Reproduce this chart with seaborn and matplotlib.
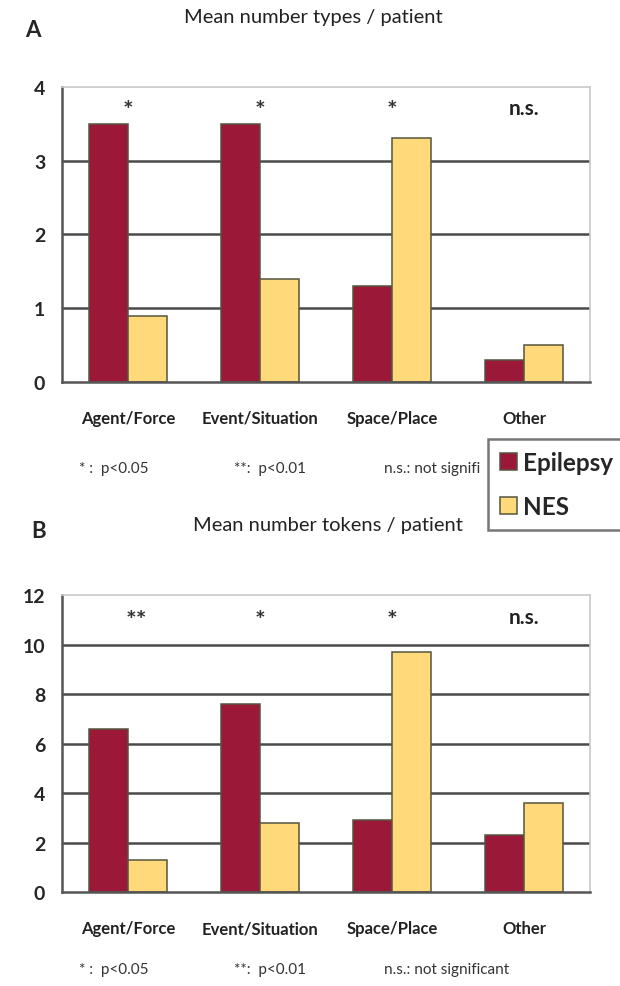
import numpy as np
import pandas as pd
import matplotlib
matplotlib.use("Agg")
import matplotlib.pyplot as plt
import seaborn as sns

categories = ['Agent/Force', 'Event/Situation', 'Space/Place', 'Other']
groups = ['Epilepsy', 'NES']

types_epilepsy = [3.5, 3.5, 1.3, 0.3]
types_nes = [0.9, 1.4, 3.3, 0.5]
types_sig = ['*', '*', '*', 'n.s.']

tokens_epilepsy = [6.6, 7.6, 2.9, 2.3]
tokens_nes = [1.3, 2.8, 9.7, 3.6]
tokens_sig = ['**', '*', '*', 'n.s.']

footnotes = ['* :  p<0.05', '**:  p<0.01', 'n.s.: not significant']

sns.set_style("white")
plt.rcParams['font.family'] = ['Lato', 'DejaVu Sans']

palette = {'Epilepsy': '#9c1838', 'NES': '#ffd97a'}


def make_df(epi, nes):
    df = pd.DataFrame({'category': categories * 2,
                       'group': ['Epilepsy'] * 4 + ['NES'] * 4,
                       'value': list(epi) + list(nes)})
    return df


def draw_panel(ax, df, sig, ymax, ystep, sig_y):
    sns.barplot(data=df, x='category', y='value', hue='group', palette=palette,
                order=categories, hue_order=groups, width=0.59, saturation=1,
                edgecolor='#55553f', linewidth=1.1, legend=False, ax=ax)
    ax.set_ylim(0, ymax)
    ax.set_xlim(-0.5, 3.5)
    ticks = np.arange(0, ymax + 0.01, ystep)
    ax.set_yticks(ticks)
    ax.set_yticklabels([str(int(v)) for v in ticks], fontsize=14, fontweight='bold')
    for v in ticks[1:-1]:
        ax.axhline(v, color='#4a4a4a', lw=1.8, zorder=0)
    ax.set_xticks(range(4))
    ax.set_xticklabels(categories, fontsize=12, fontweight='bold', color='#222222')
    ax.set_xticks(np.arange(-0.5, 3.6, 1), minor=True)
    ax.tick_params(axis='x', which='major', length=0, pad=20)
    ax.tick_params(axis='x', which='minor', length=4, width=1.2, color='#555555', direction='out')
    ax.tick_params(axis='y', length=5, width=1.2, color='#555555', direction='out', pad=7)
    ax.set_xlabel('')
    ax.set_ylabel('')
    for s in ['left', 'bottom']:
        ax.spines[s].set_color('#555555')
        ax.spines[s].set_linewidth(1.8)
    for s in ['top', 'right']:
        ax.spines[s].set_color('#c8c8c8')
        ax.spines[s].set_linewidth(1.2)
    for i, s in enumerate(sig):
        if s == 'n.s.':
            ax.text(i, sig_y, s, ha='center', va='center', fontsize=15, fontweight='bold', color='#222222')
        else:
            dx = 0.06 if s == '**' else 0
            ax.text(i + dx, sig_y - ymax * 0.01, s, ha='center', va='center', fontsize=18,
                    fontweight='bold', color='#333333')


fig = plt.figure(figsize=(6.2, 9.87), dpi=100)
ax_a = fig.add_axes([0.100, 0.612, 0.852, 0.299])
ax_b = fig.add_axes([0.100, 0.095, 0.852, 0.301])

draw_panel(ax_a, make_df(types_epilepsy, types_nes), types_sig, 4, 1, 3.72)
draw_panel(ax_b, make_df(tokens_epilepsy, tokens_nes), tokens_sig, 12, 2, 11.1)

fig.text(0.040, 0.969, 'A', fontsize=16, fontweight='bold', va='center', ha='left')
fig.text(0.505, 0.982, 'Mean number types / patient', fontsize=14.5, ha='center', va='center', color='#222222')
fig.text(0.050, 0.462, 'B', fontsize=16, fontweight='bold', va='center', ha='left')
fig.text(0.529, 0.468, 'Mean number tokens / patient', fontsize=14.5, ha='center', va='center', color='#222222')

# footnotes: panel A text is cut by the legend box
fx = [0.128, 0.378, 0.62]
for x, t in zip(fx, footnotes):
    fig.text(x, 0.525, t if t != footnotes[2] else 'n.s.: not signifi', fontsize=11, va='center', color='#333333')
    fig.text(x, 0.017, t, fontsize=11, va='center', color='#333333')

handles = [plt.Rectangle((0, 0), 1, 1, facecolor=palette[g], edgecolor='#55553f', lw=1.1) for g in groups]
leg = fig.legend(handles, groups, loc='upper left', bbox_to_anchor=(0.787, 0.554),
                 prop={'family': ['Lato', 'DejaVu Sans'], 'weight': 'bold', 'size': 17.5},
                 frameon=True, fancybox=False, edgecolor='#555555', handlelength=0.7,
                 handleheight=0.7, handletextpad=0.25, labelspacing=0.85, borderpad=0.5,
                 borderaxespad=0)
leg.get_frame().set_linewidth(1.8)
leg.set_zorder(10)

fig.savefig('out.png', dpi=100, facecolor='white')
